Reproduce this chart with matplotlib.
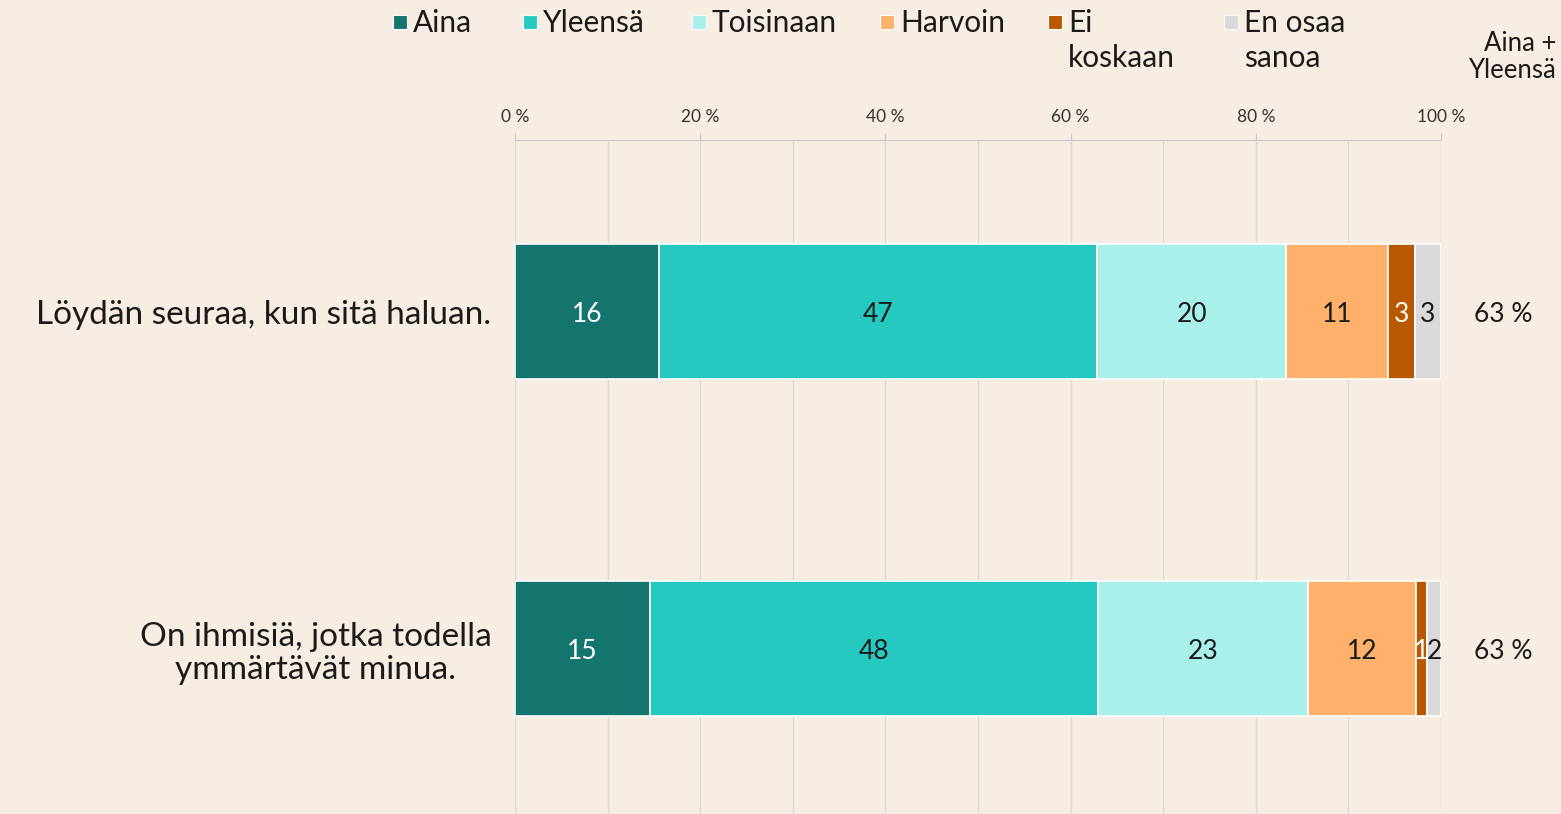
import matplotlib
matplotlib.use("Agg")
import matplotlib.pyplot as plt
from matplotlib.patches import Rectangle
import numpy as np

plt.rcParams['font.family'] = ['Lato', 'DejaVu Sans']

categories = ["Löydän seuraa, kun sitä haluan.",
              "On ihmisiä, jotka todella\nymmärtävät minua."]
series_names = ["Aina", "Yleensä", "Toisinaan", "Harvoin", "Ei\nkoskaan", "En osaa\nsanoa"]
aina = [15.6, 14.6]
yleensa = [47.3, 48.4]
toisinaan = [20.4, 22.6]
harvoin = [11.0, 11.7]
ei_koskaan = [2.9, 1.2]
en_osaa = [2.8, 1.5]
aina_yleensa = ["63 %", "63 %"]
tick_values = [0, 20, 40, 60, 80, 100]
tick_labels = ["0 %", "20 %", "40 %", "60 %", "80 %", "100 %"]

colors = ["#14756E", "#25C9BF", "#A8F0E9", "#FFB06A", "#B85800", "#D9D9D9"]
text_colors = ["white", "#1a1a1a", "#1a1a1a", "#1a1a1a", "white", "#1a1a1a"]
bg = "#F7EDE3"

series = [aina, yleensa, toisinaan, harvoin, ei_koskaan, en_osaa]

fig = plt.figure(figsize=(15.61, 8.14), dpi=100, facecolor=bg)
ax = fig.add_axes([515/1561, 0, 926/1561, 1 - 140/814])
ax.set_facecolor(bg)

y = np.arange(len(categories))
left = np.zeros(len(categories))
for vals, c, tc in zip(series, colors, text_colors):
    vals = np.array(vals)
    ax.barh(y, vals, left=left, height=0.4, color=c, edgecolor="white", linewidth=1.2, zorder=3)
    for yi, (l, v) in enumerate(zip(left, vals)):
        ax.text(l + v / 2, yi, f"{round(v)}", ha="center", va="center_baseline",
                color=tc, fontsize=19, zorder=4)
    left = left + vals

for yi, t in enumerate(aina_yleensa):
    ax.text(106.7, yi, t, ha="center", va="center_baseline", fontsize=19, color="#1a1a1a",
            clip_on=False)

ax.set_xlim(0, 100)
ax.set_ylim(1.49, -0.51)
ax.set_yticks(y)
ax.set_yticklabels(categories, fontsize=24, color="#1a1a1a", ha="right",
                   multialignment="center", linespacing=1.15)
ax.tick_params(axis="y", length=0, pad=17)
ax.xaxis.tick_top()
ax.set_xticks(tick_values)
ax.set_xticklabels(tick_labels, fontsize=12.5, color="#333333")
ax.set_xticks([10, 30, 50, 70, 90], minor=True)
ax.tick_params(axis="x", which="major", length=5, color="#C8C8C8", pad=6)
ax.tick_params(axis="x", which="minor", length=0)
ax.grid(axis="x", which="both", color="#D9D9D9", linewidth=1, zorder=0)
for s in ["bottom", "left", "right"]:
    ax.spines[s].set_visible(False)
ax.spines["top"].set_color("#C8C8C8")

# legend drawn manually
leg_x = [393, 523, 692, 880, 1048, 1224]
for x, c, name in zip(leg_x, colors, series_names):
    fig.patches.append(Rectangle((x / 1561, 1 - 29 / 814), 14 / 1561, 14 / 814,
                                 transform=fig.transFigure, facecolor=c, edgecolor="white", linewidth=0.8))
    fig.text((x + 20) / 1561, 1 - 9 / 814, name, ha="left", va="top", fontsize=21.5,
             color="#1a1a1a", linespacing=1.3)

fig.text(1556 / 1561, 1 - 31 / 814, "Aina +\nYleensä", ha="right", va="top", fontsize=18.5,
         color="#1a1a1a", multialignment="right", linespacing=1.1)

fig.savefig("out.png", dpi=100, facecolor=bg)
